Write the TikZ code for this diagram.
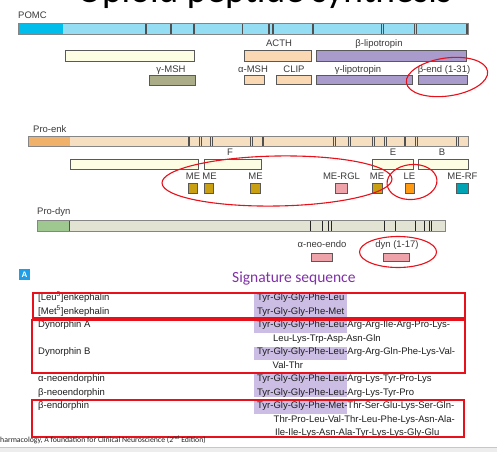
\documentclass[tikz,border=0pt]{standalone}
\usepackage{fontspec}
\setmainfont{Liberation Sans}
\newfontfamily\calfont{Carlito}
\definecolor{pomcD}{HTML}{00BDEB}
\definecolor{pomcL}{HTML}{95DDF2}
\definecolor{ivory}{HTML}{FDFDE4}
\definecolor{peach}{HTML}{FAD8B4}
\definecolor{lav}{HTML}{A99BCB}
\definecolor{olive}{HTML}{ABAC88}
\definecolor{enkD}{HTML}{F0B26A}
\definecolor{enkL}{HTML}{F6DEC0}
\definecolor{gold}{HTML}{C9A012}
\definecolor{pinkc}{HTML}{EEA2AA}
\definecolor{orangec}{HTML}{FF9A12}
\definecolor{tealc}{HTML}{00A3B3}
\definecolor{dynD}{HTML}{9FC790}
\definecolor{dynL}{HTML}{E3E3D4}
\definecolor{redc}{HTML}{E8101A}
\definecolor{hlc}{HTML}{CBBDE3}
\definecolor{purp}{HTML}{8030A8}
\definecolor{labc}{HTML}{3A3A3A}
\definecolor{seqc}{HTML}{1E1E1E}
\definecolor{edgec}{HTML}{858585}
\definecolor{tickc}{HTML}{505050}
\definecolor{boxA}{HTML}{1E9DE8}
\begin{document}
\begin{tikzpicture}[x=1pt,y=-1pt,
  lbl/.style={font=\fontsize{9.5}{11}\selectfont, text=labc, inner sep=0pt, anchor=base},
  seqt/.style={font=\fontsize{9.5}{11}\selectfont, text=seqc, inner sep=0pt, anchor=base west},
  barbox/.style={draw=edgec, line width=0.7pt},
  prod/.style={draw=black!65, line width=0.6pt},
  tk/.style={draw=tickc, line width=0.45pt},
  ring/.style={draw=redc, line width=1.1pt},
  rbox/.style={draw=redc, line width=1.4pt},
  hl/.style={fill=hlc}]
\useasboundingbox (0,0) rectangle (497,452);
\fill[white] (0,0) rectangle (497,452);
\begin{scope}
\clip (0,0) rectangle (497,452);
\node[font=\calfont\fontsize{37.5}{40}\selectfont, inner sep=0pt, anchor=base west] (title) at (77,2.5) {Opioid peptide synthesis};
\end{scope}
% bottom band
\fill[black!7] (0,447) rectangle (497,452);
\draw[black!22, line width=0.8pt] (0,447) -- (497,447);

% ---------------- POMC
\node[lbl, anchor=base west] (pomc) at (18,19) {POMC};
\fill[pomcL] (18,23) rectangle (468,34);
\fill[pomcD] (18,23) rectangle (63,34);
\foreach \x in {145,170,193,268,272,312,381.5,414.5,466}
  {\draw[tk] (\x,23) -- (\x,34); \draw[tk] (\x+1.6,23) -- (\x+1.6,34);}
\draw[tk, line width=0.7pt] (242,23) -- (242,34);
\draw[barbox] (18,23) rectangle (468,34);

\draw[prod, fill=ivory] (65,50) rectangle (194,61);
\draw[prod, fill=peach] (244,50) rectangle (311,61);
\draw[prod, fill=lav] (316,50) rectangle (466,61);
\node[lbl] (acth) at (279,47) {ACTH};
\node[lbl] (blpt) at (379,47) {β-lipotropin};

\draw[prod, fill=olive] (149,75) rectangle (195,85);
\draw[prod, fill=peach] (244,75) rectangle (264,84);
\draw[prod, fill=peach] (276,75) rectangle (311,84);
\draw[prod, fill=lav] (316,75) rectangle (412,84);
\draw[prod, fill=lav] (418,75) rectangle (467,84);
\node[lbl] (gmsh) at (171,72) {γ-MSH};
\node[lbl] (amsh) at (253,72) {α-MSH};
\node[lbl] (clip) at (294,72) {CLIP};
\node[lbl] (glpt) at (358,72) {γ-lipotropin};
\node[lbl] (bend) at (444,72) {β-end (1-31)};
\draw[ring, rotate around={8:(447,77)}] (447,77) ellipse [x radius=41pt, y radius=19pt];

% ---------------- Pro-enk
\node[lbl, anchor=base west] (proenk) at (33,132) {Pro-enk};
\fill[enkL] (28,136) rectangle (468,146);
\fill[enkD] (28,136) rectangle (70,146);
\foreach \x in {188,199.5,210.5,250.5,262,333.5,348.5,372.3,384.3,404,415.3,456.3}
  {\draw[tk] (\x,136) -- (\x,146); \draw[tk] (\x+1.6,136) -- (\x+1.6,146);}
\draw[barbox] (28,136) rectangle (468,146);

\draw[prod, fill=ivory] (70,159) rectangle (198,169);
\draw[prod, fill=ivory] (204,159) rectangle (261,169);
\draw[prod, fill=ivory] (372,159) rectangle (413,169);
\draw[prod, fill=ivory] (418,159) rectangle (468,169);
\node[lbl] (lF) at (230,155) {F};
\node[lbl] (lE) at (393,155) {E};
\node[lbl] (lB) at (442,155) {B};

\node[lbl] (me1) at (193,179) {ME};
\node[lbl] (me2) at (209.5,179) {ME};
\node[lbl] (me3) at (255.5,179) {ME};
\node[lbl] (mergl) at (341.5,179) {ME-RGL};
\node[lbl] (me4) at (377,179) {ME};
\node[lbl] (le) at (409.5,179) {LE};
\node[lbl] (merf) at (462.5,179) {ME-RF};
\draw[prod, fill=gold] (188.3,183) rectangle (197.5,193);
\draw[prod, fill=gold] (204.3,183) rectangle (213.7,193);
\draw[prod, fill=gold] (250,183) rectangle (260.7,193);
\draw[prod, fill=pinkc] (335.7,183) rectangle (347.7,193);
\draw[prod, fill=gold] (372.3,183) rectangle (382.7,193);
\draw[prod, fill=orangec] (405,183) rectangle (414.7,193);
\draw[prod, fill=tealc] (456,183) rectangle (468.3,193);
\draw[ring, rotate around={1:(277,181)}] (277,181) ellipse [x radius=115pt, y radius=25pt];
\draw[ring, rotate around={5:(412,182)}] (412,182) ellipse [x radius=25pt, y radius=17.5pt];

% ---------------- Pro-dyn
\node[lbl, anchor=base west] (prodyn) at (37,214.5) {Pro-dyn};
\fill[dynL] (37,220) rectangle (445,231);
\fill[dynD] (37,220) rectangle (69,231);
\draw[tickc, line width=0.6pt] (69,220) -- (69,231);
\foreach \x in {310,322.7,328.3,384,395,415,424.3,429.3}
  {\draw[black!85, line width=0.55pt] (\x,220) -- (\x,231);}
\foreach \x in {331.5,431.7}
  {\draw[black!85, line width=0.55pt] (\x,220) -- (\x,231);}
\draw[barbox] (37,220) rectangle (445,231);

\node[lbl] (aneo) at (322,247) {α-neo-endo};
\node[lbl] (dyn) at (397,247) {dyn (1-17)};
\draw[prod, fill=pinkc] (311,253) rectangle (332,261);
\draw[prod, fill=pinkc] (383,253) rectangle (409,261);
\draw[ring] (398,252) ellipse [x radius=38.5pt, y radius=15.5pt];

% ---------------- table
\fill[boxA] (19,269) rectangle (30,280);
\node[font=\bfseries\fontsize{8}{9}\selectfont, text=white, inner sep=0pt] (labA) at (24.5,274.5) {A};
\node[font=\calfont\fontsize{15.5}{17}\selectfont, text=purp, inner sep=0pt, anchor=base west] (sig) at (232,282) {Signature sequence};

\fill[hlc] (254,293) rectangle (347,318);
\fill[hlc] (254,320) rectangle (347,333);
\fill[hlc] (254,347) rectangle (347,360);
\fill[hlc] (254,373) rectangle (347,397);
\fill[hlc] (254,400) rectangle (347,414);

\node[seqt] (n1) at (38,300.5) {[Leu\textsuperscript{5}]enkephalin};
\node[seqt] (n2) at (38,314) {[Met\textsuperscript{5}]enkephalin};
\node[seqt] (n3) at (38,327.5) {Dynorphin A};
\node[seqt] (n4) at (38,354.5) {Dynorphin B};
\node[seqt] (n5) at (38,381.5) {α-neoendorphin};
\node[seqt] (n6) at (38,395) {β-neoendorphin};
\node[seqt] (n7) at (38,408.5) {β-endorphin};

\node[seqt] (s1) at (257,300.5) {Tyr-Gly-Gly-Phe-Leu};
\node[seqt] (s2) at (257,314) {Tyr-Gly-Gly-Phe-Met};
\node[seqt] (s3) at (257,327.5) {Tyr-Gly-Gly-Phe-Leu-Arg-Arg-Ile-Arg-Pro-Lys-};
\node[seqt] (s3b) at (273,341) {Leu-Lys-Trp-Asp-Asn-Gln};
\node[seqt] (s4) at (257,354.5) {Tyr-Gly-Gly-Phe-Leu-Arg-Arg-Gln-Phe-Lys-Val-};
\node[seqt] (s4b) at (272.5,368) {Val-Thr};
\node[seqt] (s5) at (257,381.5) {Tyr-Gly-Gly-Phe-Leu-Arg-Lys-Tyr-Pro-Lys};
\node[seqt] (s6) at (257,395) {Tyr-Gly-Gly-Phe-Leu-Arg-Lys-Tyr-Pro};
\node[seqt] (s7) at (257,408.5) {Tyr-Gly-Gly-Phe-Met-Thr-Ser-Glu-Lys-Ser-Gln-};
\node[seqt] (s7b) at (273.5,422) {Thr-Pro-Leu-Val-Thr-Leu-Phe-Lys-Asn-Ala-};
\node[seqt] (s7c) at (275,435.5) {Ile-Ile-Lys-Asn-Ala-Tyr-Lys-Lys-Gly-Glu};

\draw[rbox] (33,293) rectangle (465,318);
\draw[rbox] (32,320) rectangle (465,373);
\draw[rbox] (32,400) rectangle (464,437);

\node[font=\calfont\fontsize{7.8}{9}\selectfont, text=black!85, inner sep=0pt, anchor=base west] (foot) at (0,442.5) {harmacology, A foundation for Clinical Neuroscience (2\textsuperscript{nd} Edition)};
\end{tikzpicture}
\end{document}
